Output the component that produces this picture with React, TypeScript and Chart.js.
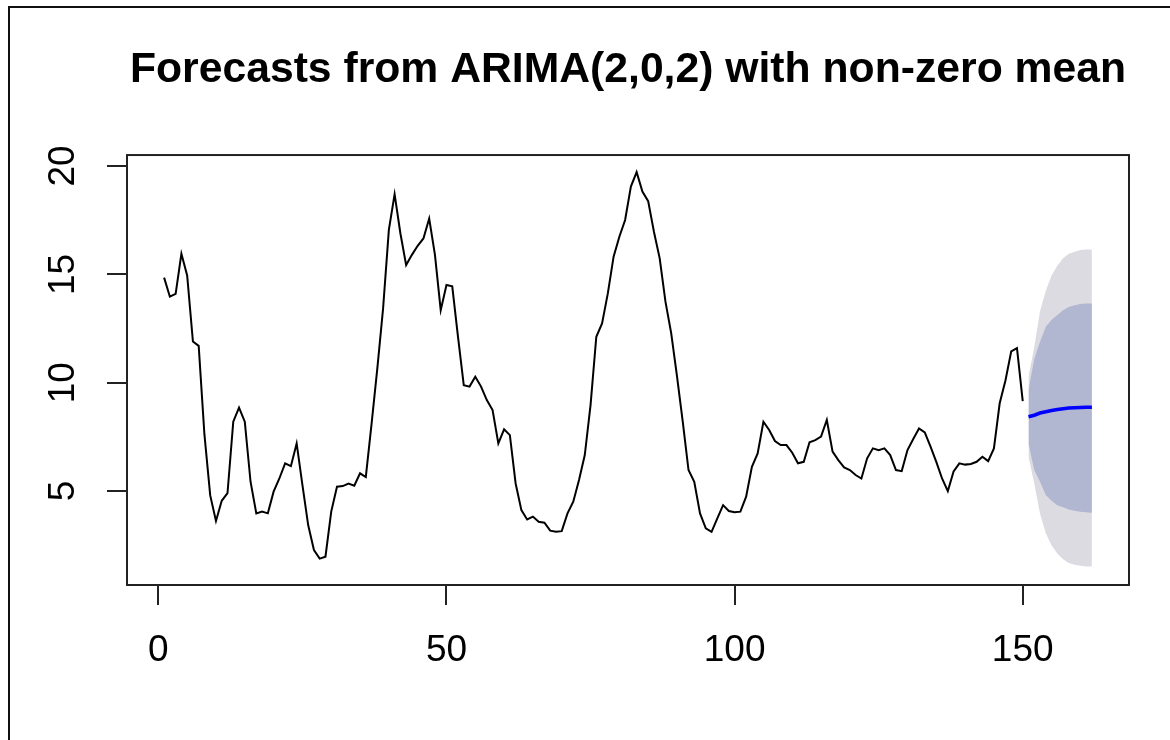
import React, { useEffect, useRef } from 'react';
import { Chart, registerables } from 'chart.js';

Chart.register(...registerables);

const TITLE = 'Forecasts from ARIMA(2,0,2) with non-zero mean';
const FONT = '"Liberation Sans", Arial, Helvetica, sans-serif';

// Observed series, time index 1..150
const history: number[] = [
  14.85, 13.97, 14.1, 15.95, 14.95, 11.9, 11.7, 7.6, 4.8, 3.62,
  4.55, 4.9, 8.2, 8.85, 8.2, 5.43, 3.97, 4.05, 3.97, 4.97,
  5.58, 6.28, 6.15, 7.2, 5.28, 3.43, 2.28, 1.88, 1.97, 4.05,
  5.2, 5.23, 5.35, 5.25, 5.82, 5.65, 8.1, 10.66, 13.43, 17.05,
  18.7, 16.9, 15.43, 15.9, 16.32, 16.66, 17.58, 15.9, 13.35, 14.51,
  14.45, 12.12, 9.89, 9.82, 10.28, 9.82, 9.2, 8.74, 7.2, 7.85,
  7.58, 5.35, 4.12, 3.69, 3.82, 3.58, 3.54, 3.17, 3.12, 3.15,
  3.97, 4.51, 5.51, 6.66, 8.97, 12.12, 12.74, 14.12, 15.82, 16.74,
  17.51, 19.05, 19.72, 18.82, 18.38, 16.97, 15.74, 13.74, 12.28, 10.3,
  8.2, 5.97, 5.43, 3.97, 3.28, 3.12, 3.74, 4.35, 4.08, 4.02,
  4.05, 4.74, 6.12, 6.74, 8.2, 7.82, 7.31, 7.12, 7.12, 6.77,
  6.28, 6.35, 7.25, 7.35, 7.51, 8.28, 6.82, 6.43, 6.09, 5.97,
  5.74, 5.58, 6.51, 6.97, 6.89, 6.97, 6.66, 5.97, 5.92, 6.89,
  7.4, 7.89, 7.71, 7.05, 6.35, 5.58, 5.0, 5.9, 6.28, 6.22,
  6.25, 6.35, 6.58, 6.38, 6.97, 9.05, 10.1, 11.45, 11.6, 9.15,
];

// Forecast horizon 151..162
const forecastMean: number[] = [8.43, 8.5, 8.6, 8.66, 8.72, 8.76, 8.8, 8.83, 8.85, 8.86, 8.87, 8.87];
const upper80: number[] = [9.66, 11.1, 11.89, 12.58, 12.89, 13.12, 13.35, 13.5, 13.58, 13.63, 13.66, 13.66];
const lower80: number[] = [7.2, 5.97, 5.43, 4.82, 4.55, 4.35, 4.25, 4.15, 4.09, 4.05, 4.02, 4.0];
const upper95: number[] = [10.3, 11.65, 13.3, 14.25, 14.95, 15.4, 15.75, 15.95, 16.05, 16.12, 16.15, 16.15];
const lower95: number[] = [6.58, 5.35, 3.95, 3.05, 2.5, 2.12, 1.85, 1.68, 1.6, 1.55, 1.52, 1.52];

const xTickValues: number[] = [0, 50, 100, 150];
const yTickValues: number[] = [5, 10, 15, 20];

const histPoints = history.map((v, i) => ({ x: i + 1, y: v }));
const fcPoints = (arr: number[]) => arr.map((v, i) => ({ x: history.length + 1 + i, y: v }));

const boxPlugin = {
  id: 'plotBox',
  afterDatasetsDraw(chart: any) {
    const { ctx, chartArea: a } = chart;
    ctx.save();
    ctx.strokeStyle = '#222';
    ctx.lineWidth = 2;
    ctx.strokeRect(a.left, a.top, a.right - a.left, a.bottom - a.top);
    ctx.restore();
  },
};

export default function App() {
  const ref = useRef<HTMLCanvasElement | null>(null);

  useEffect(() => {
    document.body.style.margin = '0';
    if (!ref.current) return;
    const transparent = 'rgba(0,0,0,0)';
    const chart = new Chart(ref.current, {
      type: 'line',
      data: {
        datasets: [
          {
            label: 'history',
            data: histPoints,
            borderColor: '#000',
            borderWidth: 2,
            pointRadius: 0,
            tension: 0,
            fill: false,
          },
          {
            label: 'mean',
            data: fcPoints(forecastMean),
            borderColor: '#0000FF',
            borderWidth: 3.5,
            pointRadius: 0,
            tension: 0,
            fill: false,
          },
          {
            label: 'hi80',
            data: fcPoints(upper80),
            borderColor: transparent,
            borderWidth: 0,
            backgroundColor: 'rgb(177,182,209)',
            pointRadius: 0,
            tension: 0,
            fill: '+1',
          },
          {
            label: 'lo80',
            data: fcPoints(lower80),
            borderColor: transparent,
            borderWidth: 0,
            pointRadius: 0,
            tension: 0,
            fill: false,
          },
          {
            label: 'hi95',
            data: fcPoints(upper95),
            borderColor: transparent,
            borderWidth: 0,
            backgroundColor: 'rgb(219,219,225)',
            pointRadius: 0,
            tension: 0,
            fill: '+1',
          },
          {
            label: 'lo95',
            data: fcPoints(lower95),
            borderColor: transparent,
            borderWidth: 0,
            pointRadius: 0,
            tension: 0,
            fill: false,
          },
        ],
      },
      options: {
        animation: false,
        responsive: false,
        maintainAspectRatio: false,
        devicePixelRatio: 1,
        events: [],
        layout: { padding: { left: 0, right: 41, top: 0, bottom: 0 } },
        plugins: {
          legend: { display: false },
          tooltip: { enabled: false },
          filler: { drawTime: 'beforeDatasetsDraw' },
          title: {
            display: true,
            fullSize: false,
            text: TITLE,
            color: '#000',
            font: { family: FONT, size: 42.7, weight: 'bold', lineHeight: 1.2 },
            padding: { top: 45, bottom: 58.8 },
          },
        },
        scales: {
          x: {
            type: 'linear',
            min: -5.44,
            max: 168.44,
            afterBuildTicks: (s: any) => {
              s.ticks = xTickValues.map((v) => ({ value: v }));
            },
            afterFit: (s: any) => {
              s.height = 155;
            },
            grid: {
              display: true,
              drawOnChartArea: false,
              drawTicks: true,
              tickLength: 20,
              lineWidth: 2,
              color: '#222',
            },
            border: { display: false },
            ticks: {
              color: '#000',
              font: { family: FONT, size: 37 },
              padding: 24,
              maxRotation: 0,
              minRotation: 0,
              autoSkip: false,
              callback: (v: any) => String(v),
            },
          },
          y: {
            type: 'linear',
            min: 0.664,
            max: 20.508,
            afterBuildTicks: (s: any) => {
              s.ticks = yTickValues.map((v) => ({ value: v }));
            },
            afterFit: (s: any) => {
              s.width = 127;
            },
            grid: {
              display: true,
              drawOnChartArea: false,
              drawTicks: true,
              tickLength: 20,
              lineWidth: 2,
              color: '#222',
            },
            border: { display: false },
            ticks: {
              color: '#000',
              font: { family: FONT, size: 37 },
              padding: 23,
              minRotation: 90,
              maxRotation: 90,
              crossAlign: 'center',
              autoSkip: false,
              callback: (v: any) => String(v),
            },
          },
        },
      },
      plugins: [boxPlugin],
    } as any);
    return () => chart.destroy();
  }, []);

  return (
    <div style={{ position: 'relative', width: 1170, height: 740, overflow: 'hidden', background: '#fff' }}>
      <canvas ref={ref} width={1170} height={740} style={{ display: 'block', width: 1170, height: 740 }} />
      <div
        style={{
          position: 'absolute',
          left: 8,
          top: 6,
          width: 1200,
          height: 800,
          borderLeft: '2px solid #111',
          borderTop: '2px solid #111',
          pointerEvents: 'none',
        }}
      />
    </div>
  );
}
